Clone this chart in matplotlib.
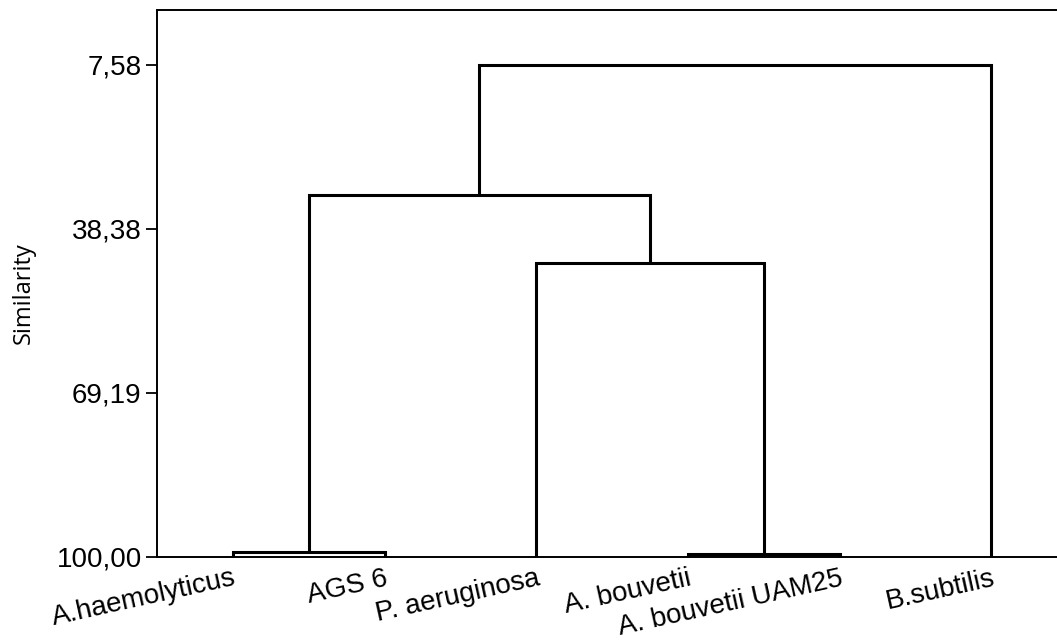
import matplotlib
matplotlib.use("Agg")
import matplotlib.pyplot as plt

leaves = ["A.haemolyticus", "AGS 6", "P. aeruginosa", "A. bouvetii", "A. bouvetii UAM25", "B.subtilis"]
# merges in order; node ids 6.. are the clusters created in that order
merge_left = [0, 3, 2, 6, 9]
merge_right = [1, 4, 7, 8, 5]
merge_sim = [99.15, 99.45, 44.83, 32.06, 7.58]
yticks = [7.58, 38.38, 69.19, 100.00]
ytick_labels = ["7,58", "38,38", "69,19", "100,00"]

fig = plt.figure(figsize=(10.57, 6.41), dpi=100)
ax = fig.add_axes([157/1057, (641-557)/641, 1 - 157/1057 + 0.01, (557-10)/641])

xpos = {i: float(i) for i in range(len(leaves))}
ypos = {i: 100.0 for i in range(len(leaves))}
node = len(leaves)
for l, r, s in zip(merge_left, merge_right, merge_sim):
    xl, xr = xpos[l], xpos[r]
    ax.plot([xl, xl, xr, xr], [ypos[l], s, s, ypos[r]], color="black", lw=2.2,
            solid_joinstyle="miter", solid_capstyle="butt", clip_on=False, zorder=3)
    xpos[node] = (xl + xr) / 2
    ypos[node] = s
    node += 1

ax.set_xlim(-0.5, -0.5 + (1057 - 157 + 10) / 151.6)
ax.set_ylim(100.0, 7.58 - 55 * 92.42 / 492)

ax.set_yticks(yticks)
ax.set_yticklabels(ytick_labels, fontsize=20, family="Liberation Sans")
ax.tick_params(axis="y", length=8, width=1.3, pad=3)
ax.set_xticks(range(len(leaves)))
ax.set_xticklabels([])
ax.tick_params(axis="x", length=0)
for i, name in enumerate(leaves):
    ax.annotate(name, xy=(i, 100.0), xycoords="data", xytext=(0, -6), textcoords="offset points",
                rotation=12.5, rotation_mode="anchor", ha="right", va="top",
                fontsize=20, family="Liberation Sans", annotation_clip=False)

ax.spines["right"].set_visible(False)
for side in ["left", "top", "bottom"]:
    ax.spines[side].set_linewidth(1.4)

fig.text(24/1057, 1 - 293/641, "Similarity", rotation=90, ha="center", va="center",
         fontsize=17, family="Open Sans")

fig.savefig("out.png", dpi=100)
